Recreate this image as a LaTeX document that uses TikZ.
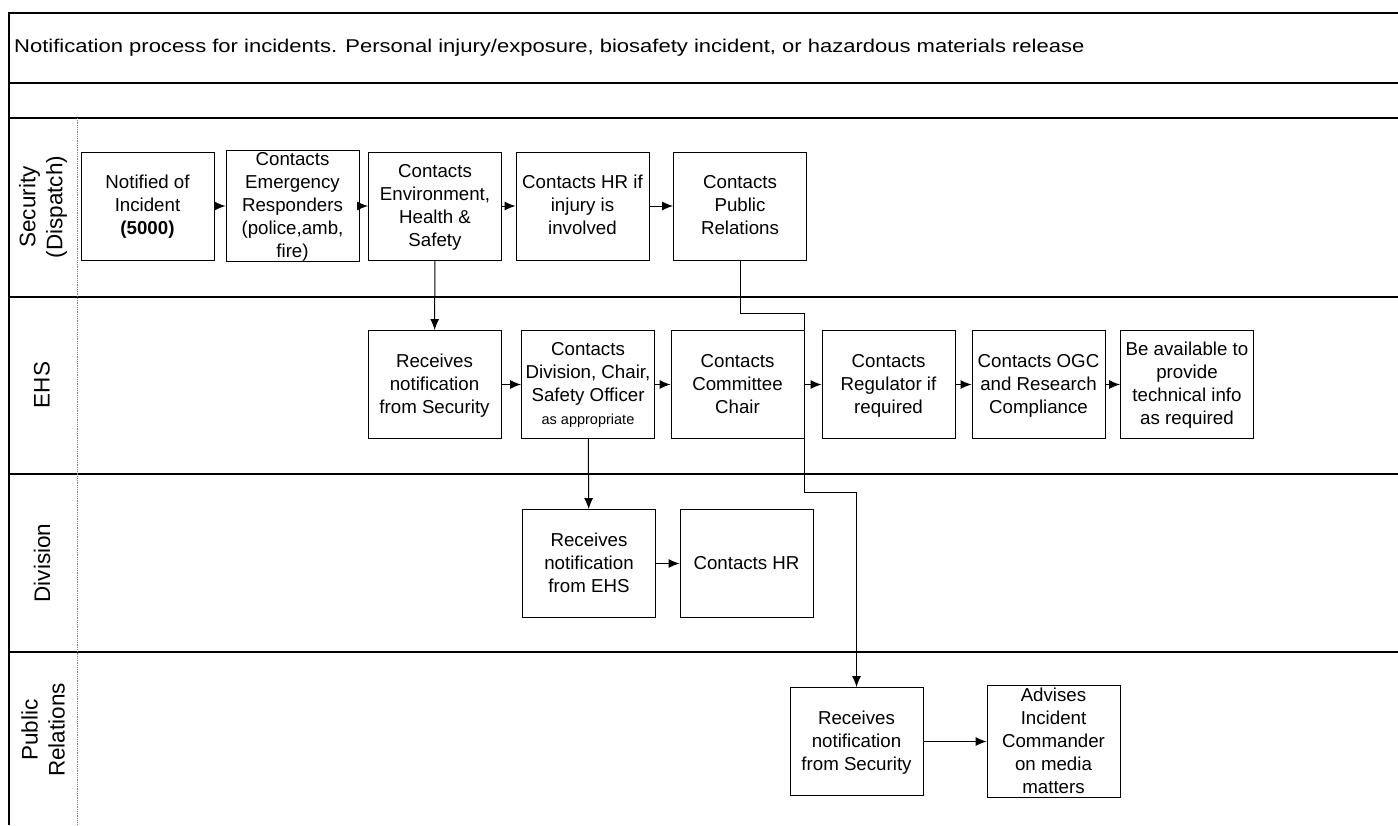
\documentclass[tikz,border=0pt]{standalone}
\usepackage{fontspec}
\setmainfont{Liberation Sans}
\usetikzlibrary{arrows.meta}
\tikzset{
  box/.style={draw, line width=0.9pt, minimum width=133pt, minimum height=108pt, align=center,
    inner sep=2pt, text depth=2pt, font=\fontsize{18.7}{23}\selectfont},
  arr/.style={line width=1pt, -{Latex[length=11pt,width=9pt]}},
  lane/.style={line width=1.3pt},
  lanelabel/.style={rotate=90, align=center, font=\fontsize{22.5}{27}\selectfont},
}
\begin{document}
\begin{tikzpicture}[x=1pt,y=-1pt]
\useasboundingbox (0,0) rectangle (1398,825);
% frame
\draw[lane] (9,825) -- (9,13) -- (1398,13);
\foreach \yy in {83,118,297,474,652} \draw[lane] (9,\yy) -- (1398,\yy);
\draw[gray, densely dotted, line width=0.8pt] (77,118) -- (77,825);
\node[anchor=west, inner sep=0pt, font=\fontsize{18.5}{21}\selectfont] (title) at (14,48)
  {\scalebox{1.19}[1]{Notification process for incidents. Personal injury/exposure, biosafety incident, or hazardous materials release}};
% lane labels
\node[lanelabel] (L1) at (43,207) {Security\\(Dispatch)};
\node[lanelabel] (L2) at (42,385) {EHS};
\node[lanelabel] (L3) at (42,563) {Division};
\node[lanelabel] (L4) at (43,730) {Public\\Relations};
% security
\node[box] (n1) at (147.5,206) {Notified of\\Incident\\\textbf{(5000)}};
\node[box] (n2) at (292.5,206) {Contacts\\Emergency\\Responders\\(police,amb,\\fire)};
\node[box] (n3) at (435,206) {Contacts\\Environment,\\Health \&\\Safety};
\node[box] (n4) at (582.5,206) {Contacts HR if\\injury is\\involved};
\node[box] (n5) at (740,206) {Contacts\\Public\\Relations};
% EHS
\node[box] (e1) at (434.5,384.5) {Receives\\notification\\from Security};
\node[box] (e2) at (588,384.5) {Contacts\\Division, Chair,\\Safety Officer\\{\fontsize{14.5}{23}\selectfont as appropriate}};
\node[box] (e3) at (737.5,384.5) {Contacts\\Committee\\Chair};
\node[box] (e4) at (888.5,384.5) {Contacts\\Regulator if\\required};
\node[box] (e5) at (1038.5,384.5) {Contacts OGC\\and Research\\Compliance};
\node[box] (e6) at (1187,384.5) {Be available to\\provide\\technical info\\as required};
% Division
\node[box] (d1) at (589,563.5) {Receives\\notification\\from EHS};
\node[box] (d2) at (746.5,563.5) {Contacts HR};
% PR
\node[box] (p1) at (856.5,741.5) {Receives\\notification\\from Security};
\node[box] (p2) at (1053.5,741.5) {Advises\\Incident\\Commander\\on media\\matters};
% connectors
\draw[arr] (n1) -- (n2);
\draw[arr] (n2) -- (n3);
\draw[arr] (n3) -- (n4);
\draw[arr] (n4) -- (n5);
\draw[arr] (n3) -- (e1);
\draw[arr] (e1) -- (e2);
\draw[arr] (e2) -- (e3);
\draw[arr] (e3) -- (e4);
\draw[arr] (e4) -- (e5);
\draw[arr] (e5) -- (e6);
\draw[arr] (e2) -- (d1);
\draw[arr] (d1) -- (d2);
\draw[arr] (p1) -- (p2);
\coordinate (w1) at (804,313);
\coordinate (w2) at (856.5,492);
\draw[arr] (n5.south) |- (w1) |- (w2) -- (p1.north);
\end{tikzpicture}
\end{document}
